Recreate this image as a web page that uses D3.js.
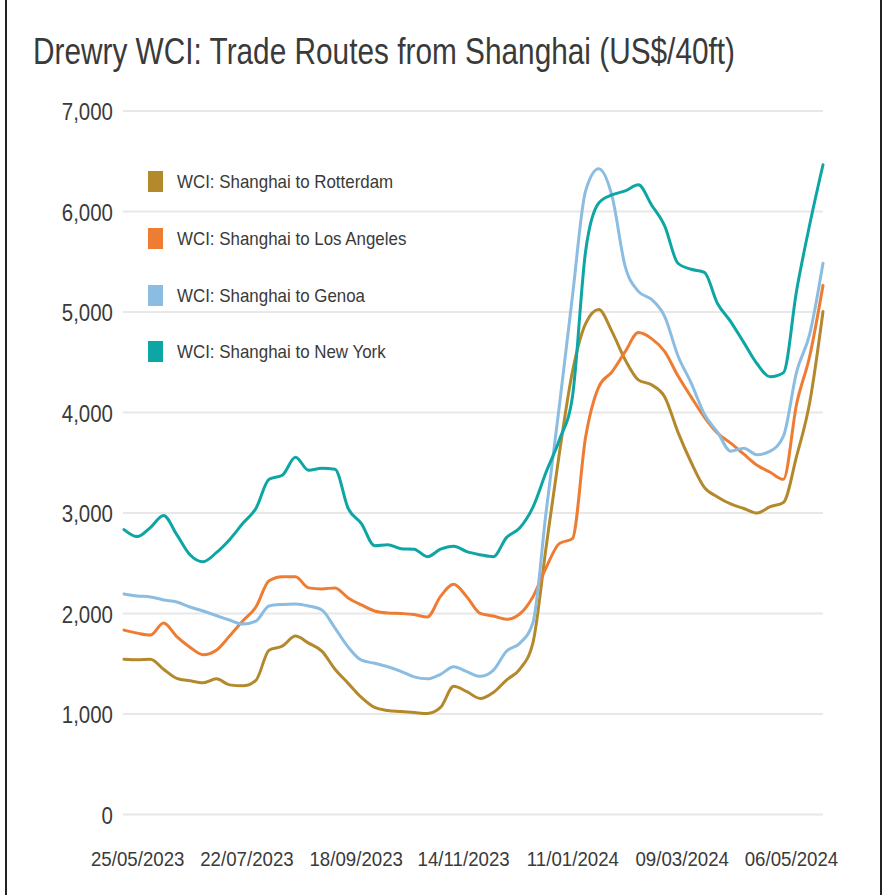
<!DOCTYPE html>
<html>
<head>
<meta charset="utf-8">
<script src="https://cdn.jsdelivr.net/npm/d3@7"></script>
<style>
  body { margin: 0; background: #fff; }
  svg { display: block; font-family: "Liberation Sans", Arial, sans-serif; }
</style>
</head>
<body>
<svg id="chart" width="885" height="895"></svg>
<script>
const width = 885;
const height = 895;
const svg = d3.select("#chart");

// weekly WCI dates (Thursdays)
const dates = [
  "2023-05-18", "2023-05-25", "2023-06-01", "2023-06-08", "2023-06-15", "2023-06-22",
  "2023-06-29", "2023-07-06", "2023-07-13", "2023-07-20", "2023-07-27", "2023-08-03",
  "2023-08-10", "2023-08-17", "2023-08-24", "2023-08-31", "2023-09-07", "2023-09-14",
  "2023-09-21", "2023-09-28", "2023-10-05", "2023-10-12", "2023-10-19", "2023-10-26",
  "2023-11-02", "2023-11-09", "2023-11-16", "2023-11-23", "2023-11-30", "2023-12-07",
  "2023-12-14", "2023-12-21", "2023-12-28", "2024-01-04", "2024-01-11", "2024-01-18",
  "2024-01-25", "2024-02-01", "2024-02-08", "2024-02-15", "2024-02-22", "2024-02-29",
  "2024-03-07", "2024-03-14", "2024-03-21", "2024-03-28", "2024-04-04", "2024-04-11",
  "2024-04-18", "2024-04-25", "2024-05-02", "2024-05-09", "2024-05-16", "2024-05-23"
];

const rotterdam = [
  1540, 1535, 1540, 1440, 1350, 1325, 1306, 1345, 1285, 1275, 1330, 1630,
  1670, 1770, 1700, 1620, 1440, 1300, 1160, 1060, 1030, 1020, 1010, 1000,
  1060, 1270, 1217, 1150, 1210, 1333, 1440, 1700, 2650, 3580, 4400, 4880,
  5020, 4800, 4520, 4320, 4270, 4150, 3800, 3500, 3250, 3155, 3085, 3040,
  2995, 3058, 3100, 3560, 4100, 5000
];

const losAngeles = [
  1830, 1800, 1780, 1900, 1765, 1660, 1585, 1630, 1770, 1920, 2060, 2320,
  2360, 2360, 2250, 2240, 2250, 2150, 2080, 2020, 2000, 1995, 1985, 1960,
  2165, 2285, 2160, 1997, 1970, 1937, 1990, 2160, 2450, 2690, 2740, 3750,
  4250, 4400, 4600, 4790, 4730, 4600, 4360, 4150, 3950, 3790, 3690, 3580,
  3470, 3400, 3330, 4080, 4560, 5260
];

const genoa = [
  2190, 2170, 2160, 2130, 2110, 2060, 2020, 1975, 1930, 1890, 1920, 2070,
  2085, 2090, 2070, 2030, 1850, 1660, 1530, 1500, 1465, 1420, 1365, 1345,
  1390, 1465, 1416, 1370, 1430, 1620, 1698, 1900, 3000, 4050, 5150, 6200,
  6420, 6150, 5450, 5200, 5120, 4950, 4560, 4290, 3980, 3800, 3610, 3640,
  3575, 3610, 3760, 4400, 4780, 5480
];

const newYork = [
  2830, 2760, 2850, 2970, 2780, 2580, 2510, 2600, 2730, 2890, 3040, 3330,
  3370, 3550, 3420, 3440, 3430, 3040, 2890, 2670, 2680, 2640, 2635, 2560,
  2635, 2665, 2610, 2580, 2560, 2750, 2845, 3050, 3400, 3720, 4150, 5600,
  6080, 6160, 6200, 6260, 6060, 5850, 5480, 5420, 5390, 5080, 4900, 4690,
  4480, 4350, 4390, 5210, 5870, 6460
];

const seriesNames = [
  "WCI: Shanghai to Rotterdam",
  "WCI: Shanghai to Los Angeles",
  "WCI: Shanghai to Genoa",
  "WCI: Shanghai to New York"
];
const seriesValues = [rotterdam, losAngeles, genoa, newYork];
const colors = ["#b3892c", "#ee7d33", "#8bbde2", "#0ea5a5"];

const yTicks = [0, 1000, 2000, 3000, 4000, 5000, 6000, 7000];
const xTickDates = ["2023-05-25", "2023-07-22", "2023-09-18", "2023-11-14", "2024-01-11", "2024-03-09", "2024-05-06"];

const parse = d3.timeParse("%Y-%m-%d");
const fmt = d3.timeFormat("%d/%m/%Y");
const squeeze = 0.89;

const x = d3.scaleTime()
  .domain([parse(dates[0]), parse(dates[dates.length - 1])])
  .range([124, 823]);

const y = d3.scaleLinear()
  .domain([0, 7000])
  .range([814, 110.5]);

// frame
svg.append("line").attr("x1", 6).attr("x2", 6).attr("y1", 0).attr("y2", height)
  .attr("stroke", "#222").attr("stroke-width", 2);
svg.append("line").attr("x1", 881).attr("x2", 881).attr("y1", 0).attr("y2", height)
  .attr("stroke", "#222").attr("stroke-width", 2);

// title
svg.append("text")
  .attr("x", 33)
  .attr("y", 64)
  .attr("font-size", 36)
  .attr("fill", "#3a3a3a")
  .attr("textLength", 702)
  .attr("lengthAdjust", "spacingAndGlyphs")
  .text("Drewry WCI: Trade Routes from Shanghai (US$/40ft)");

// y axis with gridlines
const yAxis = svg.append("g")
  .attr("transform", "translate(123,0)")
  .call(d3.axisLeft(y)
    .tickValues(yTicks)
    .tickSize(-700)
    .tickPadding(10)
    .tickFormat(d3.format(",")));

yAxis.select(".domain").remove();
yAxis.selectAll(".tick line")
  .attr("stroke", "#e8e8e8")
  .attr("stroke-width", 2);
yAxis.selectAll(".tick text")
  .attr("font-size", 23)
  .attr("fill", "#3a3a3a")
  .attr("dy", "0.4em");

// x axis
const xAxis = svg.append("g")
  .attr("transform", "translate(0,846)")
  .call(d3.axisBottom(x)
    .tickValues(xTickDates.map(parse))
    .tickSize(0)
    .tickPadding(0)
    .tickFormat(fmt));

xAxis.select(".domain").remove();
xAxis.selectAll(".tick text")
  .attr("font-size", 21)
  .attr("fill", "#3a3a3a")
  .attr("dy", "0.95em");

// lines
const line = d3.line()
  .x((d, i) => x(parse(dates[i])))
  .y(d => y(d))
  .curve(d3.curveMonotoneX);

svg.selectAll("path.series")
  .data(seriesValues)
  .join("path")
  .attr("class", "series")
  .attr("d", d => line(d))
  .attr("fill", "none")
  .attr("stroke", (d, i) => colors[i])
  .attr("stroke-width", 3)
  .attr("stroke-linejoin", "round")
  .attr("stroke-linecap", "round");

// legend
const legendY = [181, 238, 295, 351];
const legend = svg.selectAll("g.legend")
  .data(seriesNames)
  .join("g")
  .attr("class", "legend")
  .attr("transform", (d, i) => `translate(148,${legendY[i]})`);

legend.append("rect")
  .attr("x", 0)
  .attr("y", -10)
  .attr("width", 15)
  .attr("height", 21)
  .attr("fill", (d, i) => colors[i]);

legend.append("text")
  .attr("x", 29)
  .attr("y", 0)
  .attr("dy", "0.36em")
  .attr("font-size", 19)
  .attr("fill", "#3a3a3a")
  .text(d => d);

// narrow the glyphs like the original rendering
svg.selectAll(".tick text, g.legend text").each(function () {
  const w = this.getComputedTextLength();
  d3.select(this)
    .attr("textLength", w * squeeze)
    .attr("lengthAdjust", "spacingAndGlyphs");
});
</script>
</body>
</html>
